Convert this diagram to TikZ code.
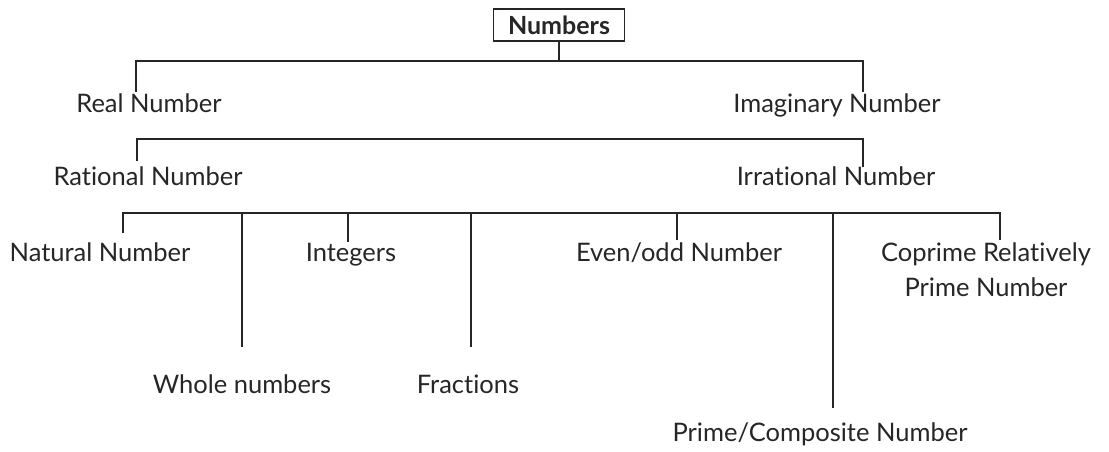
\documentclass[tikz,border=0pt]{standalone}
\usepackage{fontspec}
\setmainfont{Lato}[Ligatures={NoCommon,NoDiscretionary,NoRare}]
\begin{document}
\begin{tikzpicture}[x=1pt,y=-1pt,
  lbl/.style={anchor=base,inner sep=0pt,font=\fontsize{25.5}{35}\selectfont,text=black!85},
  topbox/.style={draw=black!85,line width=1.3pt,minimum width=131pt,minimum height=32pt,inner sep=0pt,font=\fontsize{25}{30}\selectfont\bfseries,text=black!85},
  conn/.style={draw=black!85,line width=1.4pt}]
\useasboundingbox (0,0) rectangle (1109,451);
% nodes
\node[topbox] (numbers) at (559,25) {Numbers};
\node[lbl] (real) at (149,112) {Real Number};
\node[lbl] (imag) at (837,112) {Imaginary Number};
\node[lbl] (rational) at (148,185) {Rat\kern0pt ional Number};
\node[lbl] (irrational) at (836,185) {Irrat\kern0pt ional Number};
\node[lbl] (natural) at (100,261) {Natural Number};
\node[lbl] (integers) at (351,261) {Integers};
\node[lbl] (evenodd) at (679,261) {Even/odd Number};
\node[lbl,align=center] (coprime) at (986,296) {Coprime Relatively\\Prime Number};
\node[lbl] (whole) at (242,393) {Whole numbers};
\node[lbl] (fractions) at (468,393) {Fract\kern0pt ions};
\node[lbl] (primecomp) at (820,441) {Prime/Composite Number};
% junction coordinates
\coordinate (b1) at (559,61);
\coordinate (sReal) at (136,92);
\coordinate (sImag) at (863,92);
\coordinate (sRat) at (137,161);
\coordinate (sIrr) at (863,167);
\coordinate (sNat) at (123,233);
\coordinate (sWhole) at (242,347);
\coordinate (sInt) at (348,242);
\coordinate (sFrac) at (471,347);
\coordinate (sEven) at (677,240);
\coordinate (sPrime) at (833,408);
\coordinate (sCop) at (1000,240);
% connectors
\draw[conn] (numbers.south) -- (b1);
\draw[conn] (sReal) |- (b1) -| (sImag);
\draw[conn] (sRat) |- (863,139) -- (sIrr);
\draw[conn] (sNat) |- (1000,213) -- (sCop);
\draw[conn] (sWhole) -- (242,213);
\draw[conn] (sInt) -- (348,213);
\draw[conn] (sFrac) -- (471,213);
\draw[conn] (sEven) -- (677,213);
\draw[conn] (sPrime) -- (833,213);
\end{tikzpicture}
\end{document}
